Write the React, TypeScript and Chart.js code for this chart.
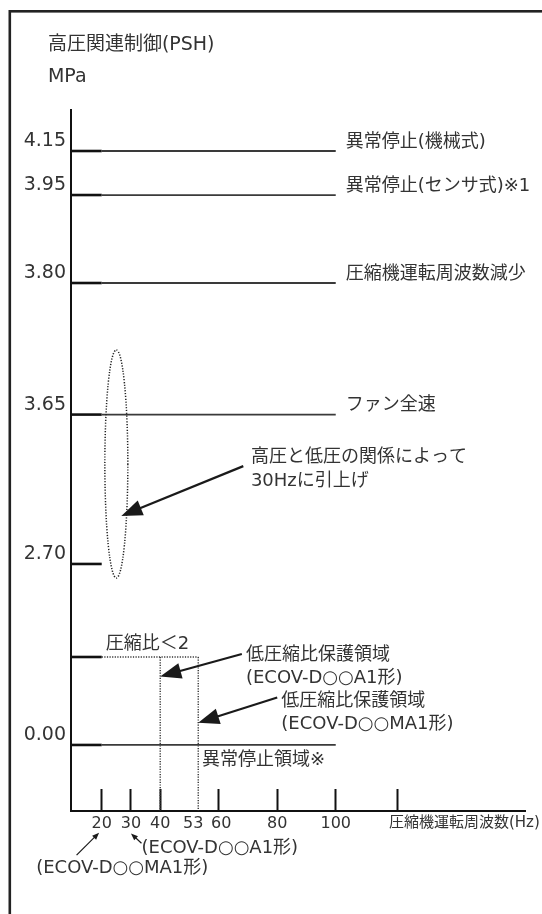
import { useEffect, useRef } from "react";
import { Chart, registerables } from "chart.js";

Chart.register(...registerables);

// ---------- data ----------
// pressure levels (MPa) on the schematic vertical axis
const levelLabels = ["4.15", "3.95", "3.80", "3.65", "2.70", "0.00"];
// schematic axis position of each level (percent of axis height)
const levelRank = [94.15, 87.87, 75.32, 56.55, 35.24, 9.42];
const levelNotes = [
  "異常停止(機械式)",
  "異常停止(センサ式)※1",
  "圧縮機運転周波数減少",
  "ファン全速",
  "",
  "",
];
const levelEndHz = [100, 100, 100, 100, 20, 100];
const kneeHz = 20;

// low compression-ratio region
const ratioRank = 21.97;
const ratioLabel = "圧縮比＜2";
const ratioEndHz = 53;
const protectHz = [40, 53];

// frequency axis
const freqTicks = [20, 30, 40, 53, 60, 80, 100, 121];
const freqTickLabels = ["20", "30", "40", "53  ", " 60", "80", "100", ""];
const freqAxisTitle = "圧縮機運転周波数(Hz)";
const axisHzMin = 9.5;
const axisHzMax = 164.7;
const rankMax = 100;

// annotations [text, hz, rank, fontSize]
const notes: [string, number, number, number][] = [
  ["高圧関連制御(PSH)", 1.6, 109.3, 19],
  ["MPa", 1.6, 104.7, 19],
  ["高圧と低圧の関係によって", 71.0, 50.4, 18],
  ["30Hzに引上げ", 71.0, 47.1, 18],
  [ratioLabel, 21.4, 23.8, 18],
  ["低圧縮比保護領域", 69.3, 22.25, 18],
  ["(ECOV-D○○A1形)", 69.3, 18.95, 18],
  ["低圧縮比保護領域", 81.4, 15.6, 18],
  ["(ECOV-D○○MA1形)", 81.4, 12.4, 18],
  ["異常停止領域※", 54.3, 7.28, 18],
  ["(ECOV-D○○A1形)", 33.6, -5.3, 18],
  ["(ECOV-D○○MA1形)", -2.4, -8.2, 18],
  [freqAxisTitle, 118.2, -1.75, 15],
];

// arrows [fromHz, fromRank, toHz, toRank, big]
const arrows: [number, number, number, number, boolean][] = [
  [68.4, 49.2, 26.7, 42.1, true],
  [67.9, 22.4, 40, 19.2, true],
  [80.0, 16.2, 53, 12.6, true],
  [33.6, -4.6, 30.0, -3.2, false],
  [11.4, -6.3, 19.1, -3.1, false],
];

// dotted ellipse: [centerHz, centerRank, halfWidthHz, halfHeightRank]
const ellipse = [25, 49.5, 3.93, 16.26];

const FONT = '"DejaVu Sans", "Noto Sans CJK JP", sans-serif';
const TEXT = "#333";
const INK = "#111";

export default function App() {
  const ref = useRef<HTMLCanvasElement | null>(null);

  useEffect(() => {
    document.body.style.margin = "0";
    const canvas = ref.current!;

    const datasets: any[] = [];
    levelRank.forEach((r, i) => {
      const pts = [
        { x: axisHzMin, y: r },
        { x: kneeHz, y: r },
      ];
      if (levelEndHz[i] > kneeHz) pts.push({ x: levelEndHz[i], y: r });
      datasets.push({
        data: pts,
        borderColor: INK,
        borderWidth: 2.5,
        pointRadius: 0,
        segment: {
          borderColor: (c: any) => (c.p0DataIndex === 0 ? "#111" : "#3a3a3a"),
          borderWidth: (c: any) => (c.p0DataIndex === 0 ? 2.6 : 1.8),
        },
      });
    });
    datasets.push({
      data: [
        { x: axisHzMin, y: ratioRank },
        { x: kneeHz, y: ratioRank },
      ],
      borderColor: INK,
      borderWidth: 2.6,
      pointRadius: 0,
    });
    datasets.push({
      data: [
        { x: kneeHz, y: ratioRank },
        { x: ratioEndHz, y: ratioRank },
      ],
      borderColor: "#333",
      borderWidth: 1.4,
      borderDash: [1.2, 1.4],
      pointRadius: 0,
    });
    protectHz.forEach((hz) => {
      datasets.push({
        data: [
          { x: hz, y: ratioRank },
          { x: hz, y: 0 },
        ],
        borderColor: "#333",
        borderWidth: 1.4,
        borderDash: [1.2, 1.4],
        pointRadius: 0,
      });
    });

    const decor = {
      id: "decor",
      beforeDraw(chart: any) {
        const ctx = chart.ctx;
        ctx.save();
        ctx.strokeStyle = "#222";
        ctx.lineWidth = 2.6;
        ctx.strokeRect(9.8, 11.3, 700, 1000);
        ctx.restore();
      },
      afterDraw(chart: any) {
        const ctx = chart.ctx;
        const xs = chart.scales.x;
        const ys = chart.scales.y;
        const X = (v: number) => xs.getPixelForValue(v);
        const Y = (v: number) => ys.getPixelForValue(v);
        ctx.save();
        ctx.fillStyle = TEXT;
        ctx.textBaseline = "middle";
        ctx.textAlign = "left";
        ctx.font = `18px ${FONT}`;
        // level notes
        levelRank.forEach((r, i) => {
          if (levelNotes[i]) ctx.fillText(levelNotes[i], X(levelEndHz[i]) + 10, Y(r) - 9);
        });
        notes.forEach(([t, hz, rk, fs]) => {
          ctx.font = `${fs}px ${FONT}`;
          ctx.fillText(t, X(hz), Y(rk));
        });

        // ellipse
        const [ex, ey, erx, ery] = ellipse;
        const cx = X(ex);
        const cy = Y(ey);
        ctx.beginPath();
        ctx.setLineDash([1.2, 1.6]);
        ctx.lineWidth = 1.5;
        ctx.strokeStyle = "#222";
        ctx.ellipse(cx, cy, X(ex + erx) - cx, cy - Y(ey + ery), 0, 0, Math.PI * 2);
        ctx.stroke();
        ctx.setLineDash([]);

        // arrows
        arrows.forEach(([fx, fy, tx, ty, big]) => {
          const x1 = X(fx), y1 = Y(fy), x2 = X(tx), y2 = Y(ty);
          const ang = Math.atan2(y2 - y1, x2 - x1);
          const hl = big ? 21 : 7;
          const hw = big ? 8 : 2.8;
          ctx.strokeStyle = "#1a1a1a";
          ctx.fillStyle = "#1a1a1a";
          ctx.lineWidth = big ? 2.2 : 1.2;
          ctx.beginPath();
          ctx.moveTo(x1, y1);
          ctx.lineTo(x2 - Math.cos(ang) * hl * 0.8, y2 - Math.sin(ang) * hl * 0.8);
          ctx.stroke();
          const bx = x2 - Math.cos(ang) * hl;
          const by = y2 - Math.sin(ang) * hl;
          ctx.beginPath();
          ctx.moveTo(x2, y2);
          ctx.lineTo(bx + Math.sin(ang) * hw, by - Math.cos(ang) * hw);
          ctx.lineTo(bx - Math.sin(ang) * hw, by + Math.cos(ang) * hw);
          ctx.closePath();
          ctx.fill();
        });
        ctx.restore();
      },
    };

    const chart = new Chart(canvas, {
      type: "line",
      data: { datasets },
      options: {
        animation: false,
        responsive: false,
        devicePixelRatio: 1,
        layout: { padding: { top: 110, right: 17, bottom: 0, left: 0 } },
        plugins: { legend: { display: false }, tooltip: { enabled: false }, title: { display: false } },
        scales: {
          x: {
            type: "linear",
            min: axisHzMin,
            max: axisHzMax,
            afterBuildTicks: (s: any) => {
              s.ticks = freqTicks.map((v) => ({ value: v }));
            },
            afterFit: (s: any) => {
              s.height = 103;
            },
            ticks: {
              autoSkip: false,
              maxRotation: 0,
              minRotation: 0,
              padding: 25,
              color: TEXT,
              font: { family: FONT, size: 16 },
              callback: (v: any) => freqTickLabels[freqTicks.indexOf(Number(v))] ?? "",
            },
            grid: {
              display: true,
              drawOnChartArea: false,
              drawTicks: true,
              tickLength: -22,
              tickWidth: 2,
              tickColor: (c: any) =>
                c.tick && c.tick.value === ratioEndHz ? "rgba(0,0,0,0)" : INK,
            },
            border: { display: true, color: INK, width: 2 },
          },
          y: {
            type: "linear",
            min: 0,
            max: rankMax,
            afterBuildTicks: (s: any) => {
              s.ticks = levelRank.map((v) => ({ value: v }));
            },
            afterFit: (s: any) => {
              s.width = 71;
            },
            ticks: {
              autoSkip: false,
              padding: 5,
              labelOffset: -10,
              color: TEXT,
              font: { family: FONT, size: 19 },
              callback: (v: any) => levelLabels[levelRank.indexOf(Number(v))] ?? "",
            },
            grid: { display: false, drawTicks: false },
            border: { display: true, color: INK, width: 2 },
          },
        },
      },
      plugins: [decor],
    } as any);

    return () => chart.destroy();
  }, []);

  return (
    <canvas
      ref={ref}
      width={542}
      height={914}
      style={{ display: "block", width: 542, height: 914 }}
    />
  );
}
